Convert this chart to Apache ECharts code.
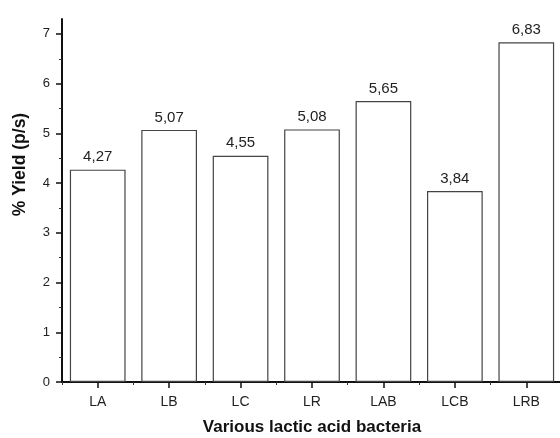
<!DOCTYPE html>
<html><head><meta charset="utf-8">
<script src="https://cdn.jsdelivr.net/npm/echarts@6/dist/echarts.min.js"></script>
<style>html,body{margin:0;padding:0;background:#fff}#c{width:560px;height:438px}</style>
</head><body><div id="c"></div>
<script>
var categories = ['LA','LB','LC','LR','LAB','LCB','LRB'];
var yieldValues = [4.27, 5.07, 4.55, 5.08, 5.65, 3.84, 6.83];
var yTickLabels = [0,1,2,3,4,5,6,7];
var yMinorTicks = [0.5,1.5,2.5,3.5,4.5,5.5,6.5];

var chart = echarts.init(document.getElementById('c'));
var font = 'Liberation Sans, Arial, sans-serif';
var gridBox = {left: 62, right: -2, top: 19, bottom: 56, outerBoundsMode: 'none', containLabel: false};
var centerTicks = categories.map(function(c, i){ return i + 0.5; });
chart.setOption({
  animation: false,
  grid: [gridBox, Object.assign({}, gridBox)],
  xAxis: [{
    type: 'category', data: categories, gridIndex: 0, position: 'bottom',
    name: 'Various lactic acid bacteria', nameLocation: 'middle', nameGap: 37,
    nameTextStyle: {fontFamily: font, fontSize: 17, fontWeight: 'bold', color: '#111'},
    axisLine: {lineStyle: {color: '#111', width: 2}},
    axisTick: {show: true, length: 3, lineStyle: {color: '#333', width: 1}},
    axisLabel: {fontFamily: font, fontSize: 14, color: '#222', margin: 13},
    splitLine: {show: false}
  },{
    type: 'value', min: 0, max: categories.length, gridIndex: 1, position: 'bottom',
    axisLine: {show: false},
    axisTick: {show: true, length: 6, customValues: centerTicks, lineStyle: {color: '#111', width: 1.5}},
    axisLabel: {show: false}, splitLine: {show: false}
  }],
  yAxis: [{
    type: 'value', min: 0, max: 7.3, interval: 1, gridIndex: 0, position: 'left',
    name: '% Yield (p/s)', nameLocation: 'middle', nameGap: 33,
    nameTextStyle: {fontFamily: font, fontSize: 17.5, fontWeight: 'bold', color: '#111', padding: [0, 0, 0, 72]},
    axisLine: {show: true, lineStyle: {color: '#111', width: 2}},
    axisTick: {show: true, length: 6, customValues: yTickLabels, lineStyle: {color: '#111', width: 1.5}},
    axisLabel: {fontFamily: font, fontSize: 13, color: '#222', margin: 12, customValues: yTickLabels},
    splitLine: {show: false}
  },{
    type: 'value', min: 0, max: 7.3, gridIndex: 1, position: 'left',
    axisLine: {show: false},
    axisTick: {show: true, length: 3, customValues: yMinorTicks, lineStyle: {color: '#333', width: 1}},
    axisLabel: {show: false}, splitLine: {show: false}
  }],
  series: [{
    type: 'bar', data: yieldValues, barWidth: '78%', xAxisIndex: 0, yAxisIndex: 0,
    itemStyle: {color: '#fff', borderColor: '#444', borderWidth: 1.2},
    label: {show: true, position: 'top', distance: 5, fontFamily: font, fontSize: 15, color: '#222',
      formatter: function(p){ return p.value.toFixed(2).replace('.', ','); }}
  }]
});
</script></body></html>
